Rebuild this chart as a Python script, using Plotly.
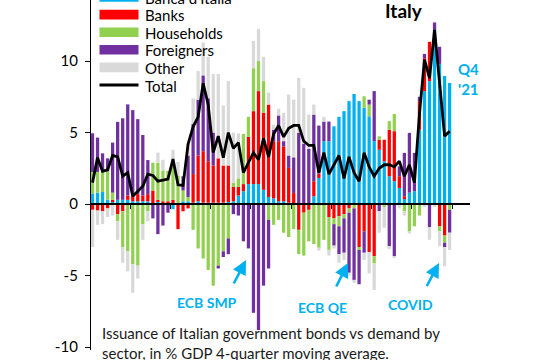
import plotly.graph_objects as go

# ---------------- data (quarterly, % GDP, 4-quarter moving average) ----------------
quarters = [f"{y}Q{q}" for y in range(2004, 2022) for q in range(1, 5)]  # 72 quarters

banca_italia = [0.75, 0.8, 0.85, 0.3, 0.2, 0.3, 0.3, 0.3, 0.2, 0.2,
                0.2, 0.2, 0.0, 0.15, 0.0, 0.0, -0.35, 0.0, 0.2, 0.2,
                0.1, 0.2, 0.1, 0.1, 0.1, 0.1, 0.1, 0.15, 0.2, 0.6,
                0.9, 1.4, 1.4, 1.4, 1.0, 0.5, 0.4, 0.2, 0.2, 0.1,
                0.0, 0.0, 0.0, 0.0, 0.55, 1.83, 4.4, 4.4, 5.44, 6.1,
                6.5, 7.2, 7.7, 7.2, 6.73, 6.14, 4.4, 3.8, 3.0, 1.95,
                1.6, 1.13, 0.35, 0.8, 0.9, 5.2, 7.9, 8.6, 12.2, 9.8,
                8.95, 8.47]
banks = [-0.4, -0.45, -0.5, -0.3, 0.1, -0.7, -0.5, 0.3, 0.4, 0.5,
         0.4, 0.5, 0.95, 0.15, 0.2, 0.2, 0.3, -1.75, -0.5, -0.3,
         2.0, 3.2, 3.6, 2.9, 2.6, 3.1, 2.6, 2.55, 1.0, 0.6,
         0.5, 3.3, 5.1, 6.5, 5.4, 6.46, 4.0, 4.2, 3.84, 2.43,
         0.78, -1.8, -0.6, -0.4, 1.05, 0.3, 0.0, -0.9, -1.0, -0.85,
         -0.7, -0.3, 0.0, -3.0, -1.9, -3.35, -3.65, 0.7, 1.5, 3.25,
         3.5, 0.82, 0.2, 0.0, 0.0, 2.0, 2.3, 2.75, 0.0, -1.55,
         -2.2, 0.0]
households = [1.5, 1.45, 1.5, 2.0, 0.5, -0.5, -2.5, -3.3, -4.2, -4.3,
              -1.4, -0.5, 1.95, 2.6, 2.15, 2.13, 2.38, 2.0, 0.75, 0.3,
              -1.8, -3.1, -3.8, -4.6, -5.7, -4.3, -3.3, -2.4, 0.3, 0.6,
              3.5, 1.4, 3.0, 2.1, 2.2, -1.1, -1.45, -1.1, -2.0, -2.3,
              -1.75, -1.7, -3.0, -2.2, -2.8, -3.05, -2.5, -2.3, -0.4, -0.7,
              -0.3, -0.3, -0.3, -0.2, 0.81, 0.82, -0.5, 0.24, -0.2, 0.6,
              1.2, 0.0, -0.5, -1.9, -1.55, -0.8, 0.0, 0.0, 0.0, -0.35,
              -0.5, -0.4]
foreigners = [2.7, 2.4, 1.2, 0.9, 3.5, 5.45, 5.7, 6.37, 5.97, 5.24,
              4.23, 2.38, -1.0, -2.1, -1.5, -0.6, 0.0, 0.0, 1.0, 2.9,
              3.5, 3.9, 5.3, 4.4, 2.3, -0.2, -0.4, -1.1, -0.7, -0.8,
              -2.6, -3.1, -7.6, -8.8, -5.7, -3.4, 0.8, 1.8, 0.36, 0.87,
              2.49, 4.98, 4.23, 3.86, 4.66, 3.36, 1.37, 1.37, -1.5, -1.95,
              -2.4, -4.2, -5.0, -2.4, -1.5, 0.34, 3.5, -0.5, 0.0, -2.95,
              -3.65, 0.69, 3.03, 4.18, 2.68, 0.3, 0.3, -1.6, 0.5, 1.2,
              -0.3, -1.6]
other = [-2.6, -1.0, -0.9, -0.6, -0.8, -1.3, -1.1, -1.4, -2.0, -0.9,
         -1.1, -0.7, 0.0, 0.7, 0.75, 0.0, 1.12, 0.95, 0.0, 0.8,
         1.8, 2.0, 2.3, 2.9, 4.1, 5.9, 4.2, 5.9, 3.5, 3.15,
         0.0, 0.0, 1.9, 2.25, 1.7, 0.84, 0.36, 0.46, 1.98, 4.26,
         4.03, 3.85, 3.9, 2.4, 0.7, -0.2, 0.33, -0.4, -0.2, -0.6,
         -0.5, -0.2, -0.2, 0.0, -0.5, -1.5, -1.85, -1.5, -1.45, -0.2,
         -0.1, -0.3, -0.3, -0.15, 0.0, 0.0, -0.2, -0.9, -0.2, -1.05,
         -1.35, -1.2]
total = [1.5, 3.25, 2.3, 2.4, 3.4, 3.3, 1.95, 2.2, 0.55, 0.9,
         1.25, 2.1, 2.0, 1.6, 1.7, 1.75, 3.15, 1.35, 1.3, 4.2,
         5.4, 6.1, 8.45, 6.95, 3.6, 4.75, 3.25, 5.0, 3.9, 4.3,
         2.2, 2.9, 3.6, 3.1, 4.6, 3.3, 4.9, 5.5, 4.7, 5.3,
         5.5, 5.5, 4.4, 4.1, 4.1, 2.2, 3.6, 2.1, 2.8, 3.4,
         1.8, 3.3, 2.2, 1.6, 3.6, 2.6, 1.95, 2.5, 2.75, 2.75,
         2.6, 3.0, 1.95, 2.75, 1.5, 6.3, 10.1, 8.8, 12.2, 8.2,
         4.75, 5.1]

y_tickvals = [-10, -5, 0, 5, 10]
y_ticktext = ["-10", "-5", "0", "5", "10"]

series = [
    ("Banca d'Italia", banca_italia, "#00B0F0"),
    ("Banks", banks, "#FF0000"),
    ("Households", households, "#92D050"),
    ("Foreigners", foreigners, "#7030A0"),
    ("Other", other, "#D9D9D9"),
]

# ---------------- geometry ----------------
FONT = "Lato"
CYAN = "#00B0F0"
L, R, T, B = 91, 82, 0, 10
FW, FH = 552, 360
W, H = FW - L - R, FH - T - B
Y_RANGE = [-10.2, 14.27]
X_RANGE = [-0.3, 75.05]


def px(xp):
    return (xp - L) / W


def py(yp):
    return (T + H - yp) / H


x_idx = list(range(len(quarters)))

fig = go.Figure()
for name, vals, col in series:
    fig.add_trace(go.Bar(x=x_idx, y=vals, name=name, marker=dict(color=col, line=dict(width=0)),
                         hovertext=quarters, showlegend=False))
fig.add_trace(go.Scatter(x=x_idx, y=total, name="Total", mode="lines",
                         line=dict(color="black", width=2.8), hovertext=quarters, showlegend=False))

# ---------------- manual legend (wide swatches as in the original) ----------------
shapes = []
annotations = []
legend_items = [(n, c) for n, _, c in series] + [("Total", "black")]
for i, (name, col) in enumerate(legend_items):
    yc = -3 + 17.6 * i
    if name == "Total":
        shapes.append(dict(type="line", xref="paper", yref="paper", x0=px(99.5), x1=px(138.5),
                           y0=py(yc), y1=py(yc), line=dict(color="black", width=3), layer="above"))
    else:
        shapes.append(dict(type="rect", xref="paper", yref="paper", x0=px(99.5), x1=px(138.5),
                           y0=py(yc + 4.8), y1=py(yc - 4.8), fillcolor=col, line=dict(width=0),
                           layer="above"))
    annotations.append(dict(xref="paper", yref="paper", x=px(143), y=py(yc + 0.5), text=name,
                            showarrow=False, xanchor="left", yanchor="middle",
                            font=dict(family=FONT, size=15, color="black")))

# title
annotations.append(dict(xref="paper", yref="paper", x=px(404), y=py(10), text="<b>Italy</b>",
                        showarrow=False, xanchor="center", yanchor="middle",
                        font=dict(family=FONT, size=19, color="black")))
# Q4 '21
annotations.append(dict(xref="paper", yref="paper", x=px(456), y=py(79), text="<b>Q4<br>'21</b>",
                        showarrow=False, xanchor="left", yanchor="middle", align="left",
                        font=dict(family=FONT, size=15, color=CYAN)))
# event labels
for label, cx, cy in [("ECB SMP", 207, 302), ("ECB QE", 322, 307), ("COVID", 410, 304)]:
    annotations.append(dict(xref="paper", yref="paper", x=px(cx), y=py(cy), text=f"<b>{label}</b>",
                            showarrow=False, xanchor="center", yanchor="middle",
                            font=dict(family=FONT, size=14, color=CYAN)))
# arrows
for hx, hy, tx, ty in [(246, 260, 233, 285), (348, 263, 335.5, 288), (439, 263, 426, 287.5)]:
    annotations.append(dict(xref="paper", yref="paper", x=px(hx), y=py(hy), text="",
                            showarrow=True, ax=tx - hx, ay=ty - hy, axref="pixel", ayref="pixel",
                            arrowhead=2, arrowsize=1.1, arrowwidth=2.6, arrowcolor=CYAN, standoff=0))
# caption
annotations.append(dict(xref="paper", yref="paper", x=px(100), y=py(343),
                        text="Issuance of Italian government bonds vs demand by<br>"
                             "sector, in % GDP 4-quarter moving average.",
                        showarrow=False, xanchor="left", yanchor="middle", align="left",
                        font=dict(family=FONT, size=15, color="#1a1a1a")))

fig.update_layout(
    width=FW, height=FH,
    margin=dict(l=L, r=R, t=T, b=B, pad=0),
    barmode="relative", bargap=0.35,
    plot_bgcolor="white", paper_bgcolor="white",
    font=dict(family=FONT, color="black"),
    showlegend=False,
    shapes=shapes, annotations=annotations,
    xaxis=dict(range=X_RANGE, showgrid=False, zeroline=False, showline=True,
               linecolor="black", linewidth=1.6, anchor="free",
               position=(0 - Y_RANGE[0]) / (Y_RANGE[1] - Y_RANGE[0]),
               ticks="outside", ticklen=4, tickwidth=1.3, tickcolor="black",
               tickmode="array", tickvals=[7.5 + 8 * k for k in range(9)], showticklabels=False),
    yaxis=dict(range=Y_RANGE, showgrid=False, zeroline=False, showline=True,
               linecolor="black", linewidth=1.3, ticks="outside", ticklen=5, tickwidth=1.3,
               tickcolor="black", tickmode="array", tickvals=y_tickvals, ticktext=y_ticktext,
               tickfont=dict(family=FONT, size=15, color="black"), ticklabelstandoff=4),
)

fig.write_html("out.html", config={"displayModeBar": False},
               post_script="document.body.style.margin='0';document.body.style.overflow='hidden';")
